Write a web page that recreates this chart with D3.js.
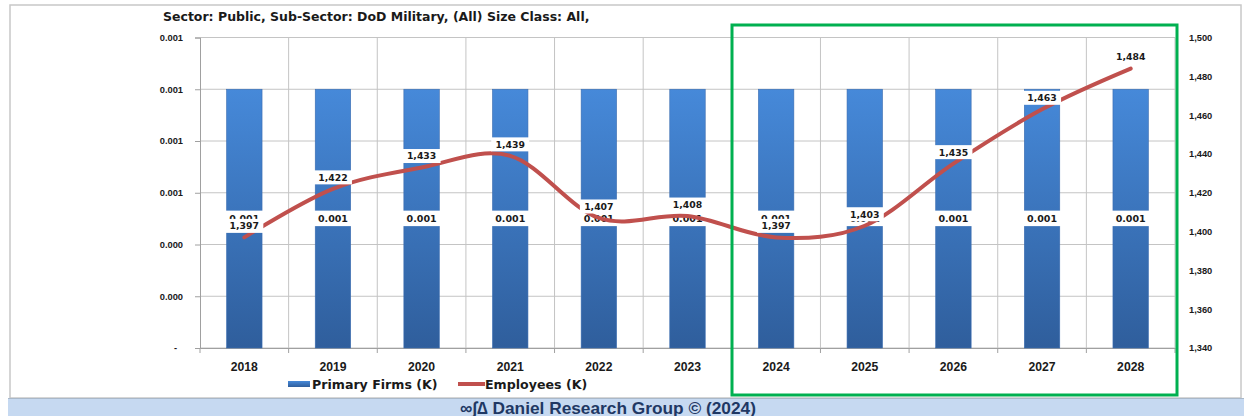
<!DOCTYPE html>
<html><head><meta charset="utf-8">
<script src="https://cdn.jsdelivr.net/npm/d3@7/dist/d3.min.js"></script>
<style>body{margin:0;background:#fff;}svg{display:block;font-family:"DejaVu Sans",Verdana,sans-serif;}</style>
</head><body>
<svg id="c" width="1244" height="416"></svg>
<script>
const years = ["2018","2019","2020","2021","2022","2023","2024","2025","2026","2027","2028"];
const firms = [0.001,0.001,0.001,0.001,0.001,0.001,0.001,0.001,0.001,0.001,0.001];
const employees = [1397,1422,1433,1439,1407,1408,1397,1403,1435,1463,1484];
const leftTicks = [0,0.0002,0.0004,0.0006,0.0008,0.001,0.0012];
const rightTicks = [1340,1360,1380,1400,1420,1440,1460,1480,1500];
const title = "Sector: Public, Sub-Sector: DoD Military, (All) Size Class: All,";
const footer = "\u221E\u222B\u2206 Daniel Research Group \u00A9 (2024)";

const svg = d3.select("#c");
const m = {l:200, r:1175, t:37.5, b:348};
const defs = svg.append("defs");
const g1 = defs.append("linearGradient").attr("id","bg").attr("x1",0).attr("y1",0).attr("x2",0).attr("y2",1);
g1.append("stop").attr("offset","0%").attr("stop-color","#4689d9");
g1.append("stop").attr("offset","100%").attr("stop-color","#2f5e9c");

// outer frame
svg.append("rect").attr("x",10).attr("y",5).attr("width",1231).attr("height",393)
  .attr("fill","#fff").attr("stroke","#c8c8c8").attr("stroke-width",1.5);
// footer band
svg.append("rect").attr("x",8).attr("y",398).attr("width",1236).attr("height",18).attr("fill","#c6d9f1");
svg.append("line").attr("x1",8).attr("x2",1244).attr("y1",398.5).attr("y2",398.5).attr("stroke","#a9b8c9");
svg.append("text").attr("x",608).attr("y",413.5).attr("text-anchor","middle")
  .attr("font-family","Liberation Sans, Arial, sans-serif").attr("font-weight","bold").attr("font-size",17.3)
  .attr("fill","#1f3864").text(footer);

const x = d3.scaleBand().domain(years).range([m.l,m.r]).paddingInner(0).paddingOuter(0);
const yL = d3.scaleLinear().domain([0,0.0012]).range([m.b,m.t]);
const yR = d3.scaleLinear().domain([1340,1500]).range([m.b,m.t]);

// gridlines
svg.append("g").selectAll("line").data(leftTicks).join("line")
  .attr("x1",m.l).attr("x2",m.r).attr("y1",d=>yL(d)).attr("y2",d=>yL(d))
  .attr("stroke","#c4c4c4").attr("stroke-width",1);
svg.append("g").selectAll("line").data(years.slice(1)).join("line")
  .attr("x1",d=>x(d)).attr("x2",d=>x(d)).attr("y1",m.t).attr("y2",m.b)
  .attr("stroke","#c4c4c4").attr("stroke-width",1);
svg.append("line").attr("x1",m.r).attr("x2",m.r).attr("y1",m.t).attr("y2",m.b).attr("stroke","#c4c4c4");

// axes
const fmtL = d => d===0 ? "-" : d3.format(".3f")(d);
const axL = svg.append("g").attr("transform",`translate(${m.l},0)`)
  .call(d3.axisLeft(yL).tickValues(leftTicks).tickFormat(fmtL).tickSize(5).tickPadding(12));
const axR = svg.append("g").attr("transform",`translate(${m.r},0)`)
  .call(d3.axisRight(yR).tickValues(rightTicks).tickFormat(d3.format(",")).tickSize(0).tickPadding(14));
const axB = svg.append("g").attr("transform",`translate(0,${m.b})`)
  .call(d3.axisBottom(x).tickSize(0).tickPadding(14));
[axL,axR,axB].forEach(a=>{
  a.selectAll("path").attr("stroke","#a0a0a0");
  a.selectAll("line").attr("stroke","#a0a0a0");
  a.selectAll("text").attr("fill","#1a1a1a").attr("font-weight","bold");
});
axR.select("path").remove();
axL.selectAll("text").attr("font-size",9.3);
axL.selectAll(".tick").filter(d=>d===0).select("text").attr("dx",-6);
axR.selectAll("text").attr("font-size",9.3);
axB.selectAll("text").attr("font-size",12.2);
// bottom category ticks
svg.append("g").selectAll("line").data(years.concat(["end"])).join("line")
  .attr("x1",(d,i)=>m.l+i*x.bandwidth()).attr("x2",(d,i)=>m.l+i*x.bandwidth())
  .attr("y1",m.b).attr("y2",m.b+5).attr("stroke","#a0a0a0");

// bars
const bw = x.bandwidth()*0.4;
svg.append("g").selectAll("rect").data(firms).join("rect")
  .attr("x",(d,i)=>x(years[i])+x.bandwidth()/2-bw/2).attr("width",bw)
  .attr("y",d=>yL(d)).attr("height",d=>m.b-yL(d))
  .attr("fill","url(#bg)").attr("stroke","#3a6cb0").attr("stroke-width",0.6);

// bar labels
const bl = svg.append("g");
firms.forEach((d,i)=>{
  const cx = x(years[i])+x.bandwidth()/2, cy = (yL(d)+m.b)/2;
  bl.append("rect").attr("x",cx-21).attr("y",cy-8).attr("width",42).attr("height",15.5).attr("fill","#fff");
  bl.append("text").attr("x",cx).attr("y",cy+3.4).attr("text-anchor","middle")
    .attr("font-size",9.5).attr("font-weight","bold").attr("fill","#1a1a1a").text(d3.format(".3f")(d));
});

// line
const line = d3.line().x((d,i)=>x(years[i])+x.bandwidth()/2).y(d=>yR(d)).curve(d3.curveCardinal.tension(0));
svg.append("path").datum(employees).attr("d",line).attr("fill","none")
  .attr("stroke","#c0504d").attr("stroke-width",4).attr("stroke-linecap","round");

// line labels
const ll = svg.append("g");
employees.forEach((d,i)=>{
  const cx = x(years[i])+x.bandwidth()/2, cy = yR(d)-11.5;
  const t = d3.format(",")(d);
  ll.append("rect").attr("x",cx-19).attr("y",cy-7).attr("width",38).attr("height",14).attr("fill","#fff");
  ll.append("text").attr("x",cx).attr("y",cy+3.4).attr("text-anchor","middle")
    .attr("font-size",9.3).attr("font-weight","bold").attr("fill","#1a1a1a").text(t);
});

// title
svg.append("text").attr("x",163).attr("y",20.5).attr("font-size",12.5).attr("font-weight","bold")
  .attr("fill","#1a1a1a").text(title);

// legend
svg.append("rect").attr("x",288).attr("y",381).attr("width",22).attr("height",6).attr("fill","url(#bg)");
svg.append("text").attr("x",312).attr("y",388.5).attr("font-size",12.6).attr("font-weight","bold").attr("fill","#1a1a1a").text("Primary Firms (K)");
svg.append("line").attr("x1",458).attr("x2",485).attr("y1",384).attr("y2",384).attr("stroke","#c0504d").attr("stroke-width",4);
svg.append("text").attr("x",485).attr("y",388.5).attr("font-size",12.6).attr("font-weight","bold").attr("fill","#1a1a1a").text("Employees (K)");

// green highlight box
svg.append("rect").attr("x",732).attr("y",25).attr("width",445).attr("height",370)
  .attr("fill","none").attr("stroke","#00b050").attr("stroke-width",3);
</script>
</body></html>
